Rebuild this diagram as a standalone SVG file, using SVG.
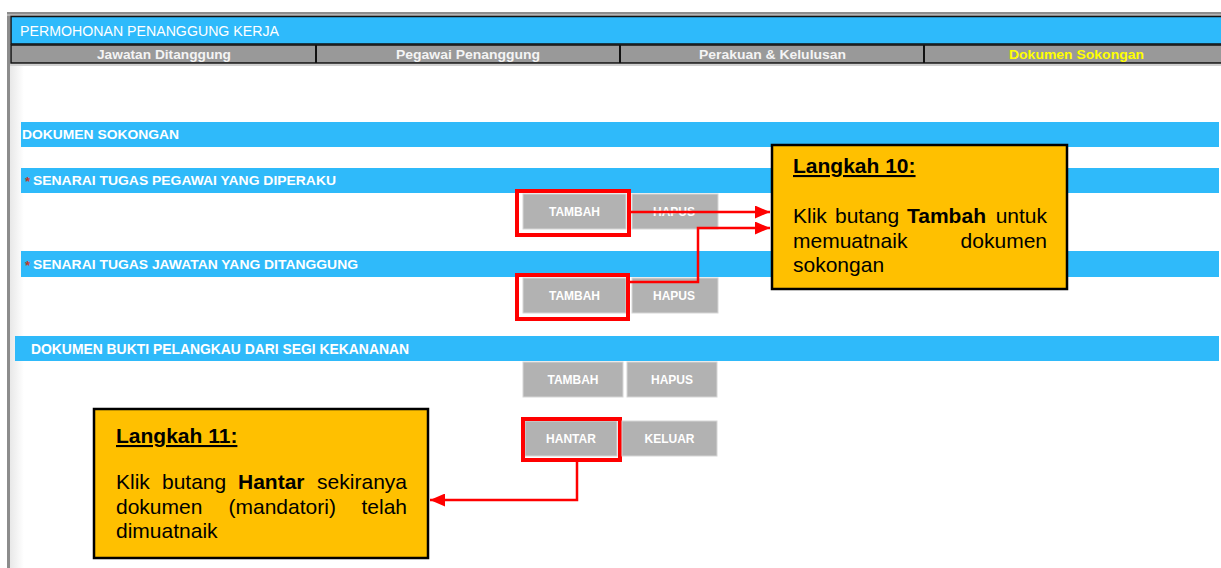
<svg xmlns="http://www.w3.org/2000/svg" width="1221" height="568" viewBox="0 0 1221 568">
<style>
.bar{fill:#2FBAFA}
.hd{font-family:"Liberation Sans",Arial,sans-serif;font-weight:bold;font-size:13.5px;fill:#fff}
.nar{font-family:"Liberation Sans Narrow","Liberation Sans",Arial,sans-serif;fill:#fff}
.tab{font-family:"Liberation Sans Narrow","Liberation Sans",Arial,sans-serif;font-weight:bold;font-size:13.5px;fill:#f4f4f4}
.btn{fill:#B2B2B2;stroke:#d6d6d6;stroke-width:1}
.bt{font-family:"Liberation Sans",Arial,sans-serif;font-weight:bold;font-size:12px;fill:#fff;text-anchor:middle}
.hl{fill:none;stroke:#FF0000;stroke-width:4}
.note{fill:#FFC000;stroke:#000;stroke-width:2.5}
.nt{font-family:"Liberation Sans",Arial,sans-serif;font-size:21px;fill:#000}
.ntb{font-weight:bold}
.conn{fill:none;stroke:#FF0000;stroke-width:2.5;marker-end:url(#ah)}
.ast{font-family:"Liberation Sans",Arial,sans-serif;font-size:13px;font-weight:bold;fill:#C0392B}
</style>
<defs>
<marker id="ah" viewBox="0 0 15 13" refX="15" refY="6.5" markerWidth="15" markerHeight="13" markerUnits="userSpaceOnUse" orient="auto">
<path d="M0,0 L15,6.5 L0,13 z" fill="#FF0000"/>
</marker>
<linearGradient id="sh" x1="0" y1="0" x2="1" y2="0">
<stop offset="0" stop-color="#e8e8e8"/>
<stop offset="1" stop-color="#ffffff"/>
</linearGradient>
</defs>
<rect x="0" y="0" width="1221" height="568" fill="#fff"/>

<g id="frame">
<rect x="10" y="16" width="14" height="552" fill="url(#sh)"/>
<rect x="7" y="12" width="3" height="556" fill="#8c8c8c"/>
<rect x="7" y="12" width="1214" height="2" fill="#8c8c8c"/>
<rect x="7" y="14" width="1214" height="2" fill="#b5b5b5"/>
<rect x="11" y="16.5" width="1212" height="27.5" fill="#2EBAFB" stroke="#111" stroke-width="1.5"/>
<rect x="11" y="45" width="1212" height="18" fill="#999" stroke="#111" stroke-width="1.5"/>
<line x1="316" y1="45" x2="316" y2="63" stroke="#111" stroke-width="2"/>
<line x1="620" y1="45" x2="620" y2="63" stroke="#111" stroke-width="2"/>
<line x1="924" y1="45" x2="924" y2="63" stroke="#111" stroke-width="2"/>
<rect x="10" y="64" width="1211" height="2" fill="#d0d0d0"/>
<text class="nar" x="20" y="36" font-size="14" textLength="259" lengthAdjust="spacingAndGlyphs">PERMOHONAN PENANGGUNG KERJA</text>
<text class="tab" x="97" y="59" textLength="134" lengthAdjust="spacingAndGlyphs">Jawatan Ditanggung</text>
<text class="tab" x="396" y="59" textLength="144" lengthAdjust="spacingAndGlyphs">Pegawai Penanggung</text>
<text class="tab" x="699" y="59" textLength="147" lengthAdjust="spacingAndGlyphs">Perakuan &amp; Kelulusan</text>
<text class="tab" x="1009" y="59" textLength="135" lengthAdjust="spacingAndGlyphs" style="fill:#FFFF00">Dokumen Sokongan</text>
</g>

<g id="sec-dokumen">
<rect class="bar" x="21" y="122" width="1198" height="25"/>
<text class="hd" x="22" y="139" textLength="157" lengthAdjust="spacingAndGlyphs">DOKUMEN SOKONGAN</text>
</g>

<g id="sec-pegawai">
<rect class="bar" x="21" y="168" width="1198" height="25"/>
<text class="ast" x="25" y="186">*</text>
<text class="hd" x="33" y="185" textLength="303" lengthAdjust="spacingAndGlyphs">SENARAI TUGAS PEGAWAI YANG DIPERAKU</text>
</g>

<g id="sec-jawatan">
<rect class="bar" x="21" y="251" width="1198" height="26"/>
<text class="ast" x="25" y="270">*</text>
<text class="hd" x="33" y="269" textLength="325" lengthAdjust="spacingAndGlyphs">SENARAI TUGAS JAWATAN YANG DITANGGUNG</text>
</g>

<g id="sec-bukti">
<rect class="bar" x="15" y="336" width="1204" height="25"/>
<text class="nar" x="31" y="354" font-size="14.5" font-weight="bold" textLength="378" lengthAdjust="spacingAndGlyphs">DOKUMEN BUKTI PELANGKAU DARI SEGI KEKANANAN</text>
</g>

<g id="btn-tambah1">
<rect class="btn" x="523" y="194" width="103" height="35"/>
<text class="bt" x="574.5" y="216">TAMBAH</text>
<rect class="hl" x="517" y="191" width="112" height="44"/>
</g>
<g id="btn-hapus1">
<rect class="btn" x="632" y="194" width="86" height="35"/>
<text class="bt" x="674" y="216">HAPUS</text>
</g>
<g id="btn-tambah2">
<rect class="btn" x="523" y="278" width="103" height="35"/>
<text class="bt" x="574.5" y="300">TAMBAH</text>
<rect class="hl" x="517" y="275" width="111" height="44"/>
</g>
<g id="btn-hapus2">
<rect class="btn" x="632" y="278" width="86" height="35"/>
<text class="bt" x="674" y="300">HAPUS</text>
</g>
<g id="btn-tambah3">
<rect class="btn" x="523" y="362" width="100" height="35"/>
<text class="bt" x="573" y="384">TAMBAH</text>
</g>
<g id="btn-hapus3">
<rect class="btn" x="627" y="362" width="90" height="35"/>
<text class="bt" x="672" y="384">HAPUS</text>
</g>
<g id="btn-hantar">
<rect class="btn" x="525" y="421" width="92" height="35"/>
<text class="bt" x="571" y="443">HANTAR</text>
<rect class="hl" x="523" y="419" width="97" height="41"/>
</g>
<g id="btn-keluar">
<rect class="btn" x="622" y="421" width="95" height="35"/>
<text class="bt" x="669.5" y="443">KELUAR</text>
</g>

<g id="connectors">
<polyline class="conn" points="631,212 770,212"/>
<polyline class="conn" points="630,282 698,282 698,228 770,228"/>
<polyline class="conn" points="577,462 577,500 430,500"/>
</g>

<g id="note-langkah10">
<rect class="note" x="772" y="145" width="295" height="144"/>
<text class="nt ntb" x="793" y="173" text-decoration="underline">Langkah 10:</text>
<text class="nt" x="793" y="223">Klik</text>
<text class="nt" x="835" y="223">butang</text>
<text class="nt ntb" x="907" y="223">Tambah</text>
<text class="nt" x="1047" y="223" text-anchor="end">untuk</text>
<text class="nt" x="793" y="248">memuatnaik</text>
<text class="nt" x="1047" y="248" text-anchor="end">dokumen</text>
<text class="nt" x="793" y="272">sokongan</text>
</g>

<g id="note-langkah11">
<rect class="note" x="94" y="409" width="334" height="149"/>
<text class="nt ntb" x="116" y="443" text-decoration="underline">Langkah 11:</text>
<text class="nt" x="116" y="489">Klik</text>
<text class="nt" x="162" y="489">butang</text>
<text class="nt ntb" x="238" y="489">Hantar</text>
<text class="nt" x="407" y="489" text-anchor="end">sekiranya</text>
<text class="nt" x="116" y="513.5">dokumen</text>
<text class="nt" x="228.5" y="513.5">(mandatori)</text>
<text class="nt" x="407" y="513.5" text-anchor="end">telah</text>
<text class="nt" x="116" y="538">dimuatnaik</text>
</g>
</svg>
